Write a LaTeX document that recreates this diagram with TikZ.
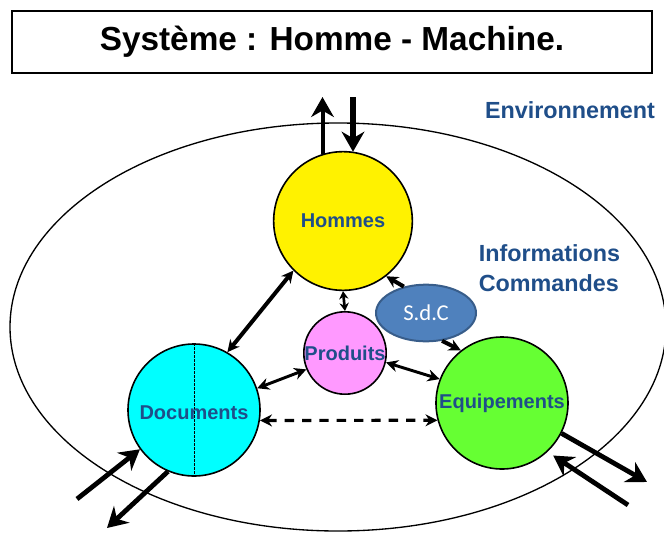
\documentclass[tikz,border=0pt]{standalone}
\usepackage{fontspec}
\setmainfont{Liberation Sans}
\newfontfamily\sdcfont{Carlito}
\usepackage{tikz}
\usetikzlibrary{arrows.meta,shapes.geometric}

\definecolor{txtblue}{HTML}{1F4E89}
\definecolor{sdcfill}{HTML}{4F81BD}
\definecolor{sdcline}{HTML}{385D8A}
\definecolor{prodpink}{HTML}{FF99FF}
\definecolor{docscyan}{HTML}{00FFFF}
\definecolor{equipgreen}{HTML}{66FF33}

\begin{document}
\begin{tikzpicture}[
     x = 0.75pt, y = -0.75pt, % one unit = one pixel of the sketch
     > = {Stealth[length=9pt,width=9pt]}, % arrow head style
     semithick % line style
 ]

 \tikzstyle{entity}=[
     circle,
     draw = black,
     line width = 1.2pt,
     text = txtblue,
     font = \bfseries\fontsize{15}{18}\selectfont,
     inner sep = 0pt
 ]
 \tikzstyle{link} = [<->, line width = 2.2pt]
 \tikzstyle{io} = [->, line width = 3.6pt,
     > = {Stealth[length=15pt,width=17pt]}]
 \tikzstyle{label} = [
     text = txtblue,
     font = \bfseries\fontsize{17.5}{22.5}\selectfont,
     align = left]

 \useasboundingbox (0,0) rectangle (664,532);

 % environment
 \draw[line width = 1pt] (338,327) ellipse [x radius = 328, y radius = 204];

 \node[draw, line width = 2pt, minimum width = 480pt, minimum height = 46.5pt,
       font = \bfseries\fontsize{25}{30}\selectfont] (title) at (332,42)
       {Système : Homme - Machine.};

 \node[entity, fill = yellow, minimum size = 104pt] (hommes) at (343,221) {Hommes};
 \node[entity, fill = prodpink, minimum size = 61.5pt] (prod) at (345,353) {Produits};
 \node[entity, fill = docscyan, minimum size = 99pt] (docs) at (194,410) {};
 \node[entity, fill = equipgreen, minimum size = 99pt] (equip) at (502,403) {Equipements};
 \draw[line width = 0.6pt, dash pattern = on 2pt off 1pt] (docs.north) -- (docs.south);
 \node[text = txtblue, font = \bfseries\fontsize{15}{18}\selectfont] (doclbl) at (194,413) {Documents};

 \node[ellipse, fill = sdcfill, draw = sdcline, line width = 1.5pt,
       minimum width = 75pt, minimum height = 42.5pt, text = white,
       font = \sdcfont\fontsize{17}{20}\selectfont] (sdc) at (426,313) {S.d.C};

 \node[label] (env) at (570,110) {Environnement};
 \node[label, anchor = west] (info) at (474,268) {Informations\\Commandes};

 % free ends of the exchanges with the environment
 \coordinate (upA) at (323,97);
 \coordinate (dnA) at (353,97);
 \coordinate (docIn) at (77,499);
 \coordinate (docOut) at (107,528);
 \coordinate (eqOut) at (647,482);
 \coordinate (eqIn) at (628,505);

 \draw[io, line width = 3pt] (hommes.107) -- (hommes.107 |- upA);
 \draw[io, line width = 4.5pt] (dnA) -- (dnA |- hommes.81);
 \draw[io] (docIn) -- (docs.216);
 \draw[io] (docs.247) -- (docOut);
 \draw[io] (equip.-27) -- (eqOut);
 \draw[io, shorten > = 5pt] (eqIn) -- (equip.-47);

 \draw[link, line width = 3pt] (hommes.225) -- (docs.60);
 \draw[link, line width = 2pt, > = {Stealth[length=6pt,width=7pt]}] (hommes.south) -- (prod.north);
 \draw[link] (prod.203) -- (docs.19);
 \draw[link] (prod.-13) -- (equip.159);
 \draw[link, dash pattern = on 7pt off 6pt, line width = 2.4pt] (docs.-9) -- (equip.195);
 \draw[->, line width = 3pt] (sdc.130) -- (hommes.-52);
 \draw[->, line width = 3pt] (sdc.-60) -- (equip.128);
\end{tikzpicture}
\end{document}
